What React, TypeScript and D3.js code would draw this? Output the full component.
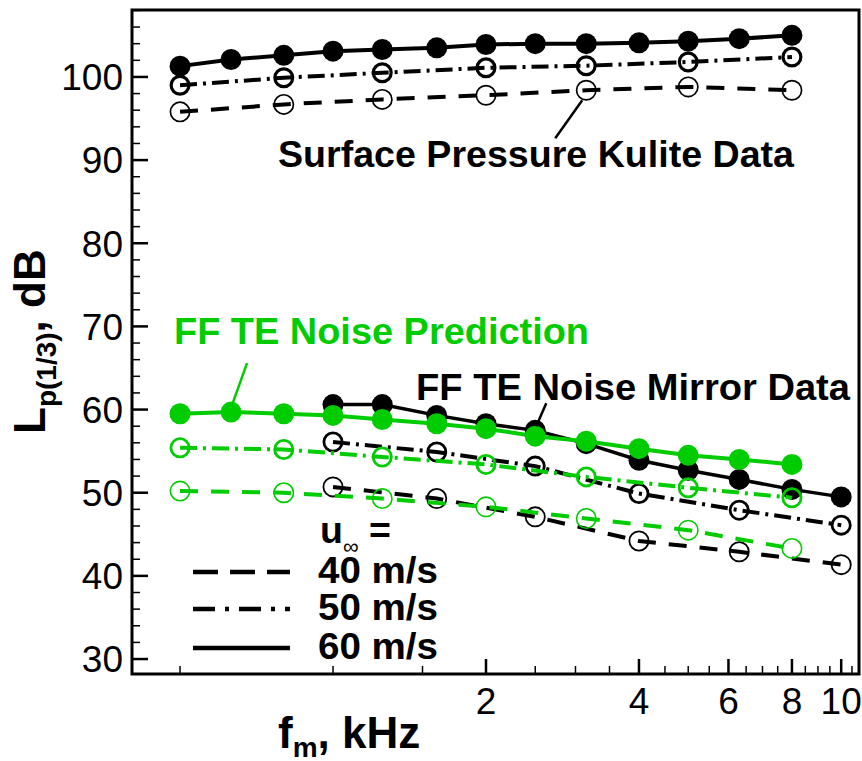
import React from "react";
import * as d3 from "d3";

// ---------- data ----------
const bands13 = [0.5, 0.63, 0.8, 1, 1.25, 1.6, 2, 2.5, 3.15, 4, 5, 6.3, 8];
const bandsOdd = [0.5, 0.8, 1.25, 2, 3.15, 5, 8];
const mirrorBands = [1, 1.25, 1.6, 2, 2.5, 3.15, 4, 5, 6.3, 8, 10];
const mirrorBandsAlt = [1, 1.6, 2.5, 4, 6.3, 10];

const kulite60 = [101.3, 102.1, 102.6, 103.1, 103.3, 103.5, 103.9, 104.0, 104.0, 104.1, 104.3, 104.6, 105.0];
const kulite50 = [99.0, 99.9, 100.5, 101.1, 101.35, 101.8, 102.4];
const kulite40 = [95.8, 96.7, 97.3, 97.8, 98.4, 98.8, 98.4];

const mirror60 = [60.6, 60.6, 59.3, 58.3, 57.5, 55.9, 53.9, 52.7, 51.6, 50.4, 49.5];
const mirror50 = [56.1, 54.9, 53.2, 49.9, 47.9, 46.1];
const mirror40 = [50.7, 49.3, 47.1, 44.2, 42.9, 41.35];

const pred60 = [59.5, 59.7, 59.5, 59.3, 58.8, 58.3, 57.7, 56.8, 56.2, 55.3, 54.5, 54.0, 53.4];
const pred50 = [55.4, 55.2, 54.3, 53.4, 51.9, 50.6, 49.4];
const pred40 = [50.2, 50.0, 49.3, 48.3, 46.9, 45.5, 43.3];

const yMajorTicks = [30, 40, 50, 60, 70, 80, 90, 100];
const xMajorTicks = [2, 4, 6, 8, 10];
const xMinorStep = 0.5;
const legendLabels = ["40 m/s", "50 m/s", "60 m/s"];

// ---------- styles ----------
const GREEN = "#00cc00";
const FONT = "'Liberation Sans', Arial, Helvetica, sans-serif";
const DASH = "18,13";
const DASHDOT = "17,6,3,6";

const W = 862;
const H = 761;
const L = 132, R = 859, T = 10, B = 674;

const x = d3.scaleLog().domain([0.4022, 10.84]).range([L, R]);
const y = d3.scaleLinear().domain([28.2, 108.05]).range([B, T]);

type Pt = { f: number; v: number };
const zip = (fs: number[], vs: number[]): Pt[] => fs.map((f, i) => ({ f, v: vs[i] }));
const lineGen = d3.line<Pt>().x((d) => x(d.f)).y((d) => y(d.v));

function Series({ pts, color, dash, lw, filled, cw, r = 10.5 }: { pts: Pt[]; color: string; dash?: string; lw: number; filled: boolean; cw: number; r?: number }) {
  return (
    <g>
      <path d={lineGen(pts) || ""} fill="none" stroke={color} strokeWidth={lw} strokeDasharray={dash} />
      {pts.map((p, i) => (
        <circle key={i} cx={x(p.f)} cy={y(p.v)} r={filled ? r : r - cw / 2} fill={filled ? color : "none"} stroke={filled ? "none" : color} strokeWidth={cw} />
      ))}
    </g>
  );
}

export default function App() {
  const yMinor = d3.range(30, 108.01, 2).filter((v) => v % 10 !== 0);
  const xMinor = d3.range(0.5, 10.51, xMinorStep).filter((f) => !xMajorTicks.includes(f));

  const k40 = zip(bandsOdd, kulite40);
  const kLead = k40[4];
  const p60 = zip(bands13, pred60);
  const pLead = p60[1];
  const m60 = zip(mirrorBands, mirror60);
  const mLead = m60[4];

  const legendY = [572, 609, 648];
  const legendDash = ["25,12", "22,10,4,10", undefined];

  return (
    <svg width={W} height={H} style={{ position: "absolute", left: 0, top: 0, background: "#fff" }} fontFamily={FONT}>
      <rect x={0} y={0} width={W} height={H} fill="#fff" />
      {/* ticks */}
      {yMajorTicks.map((v) => (
        <g key={"ym" + v}>
          <line x1={L} x2={L + 16} y1={y(v)} y2={y(v)} stroke="#000" strokeWidth={2.5} />
          <text x={123} y={y(v)} dy="0.36em" textAnchor="end" fontSize={37}>{v}</text>
        </g>
      ))}
      {yMinor.map((v) => (
        <line key={"yn" + v} x1={L} x2={L + 8} y1={y(v)} y2={y(v)} stroke="#000" strokeWidth={1.5} />
      ))}
      {xMajorTicks.map((f) => (
        <g key={"xm" + f}>
          <line x1={x(f)} x2={x(f)} y1={B} y2={B - 15} stroke="#000" strokeWidth={2.5} />
          <text x={x(f)} y={714} textAnchor="middle" fontSize={37}>{f}</text>
        </g>
      ))}
      {xMinor.map((f) => (
        <line key={"xn" + f} x1={x(f)} x2={x(f)} y1={B} y2={B - 8} stroke="#000" strokeWidth={1.5} />
      ))}

      {/* Kulite data */}
      <Series pts={zip(bands13, kulite60)} color="#000" lw={4} filled cw={0} />
      <Series pts={zip(bandsOdd, kulite50)} color="#000" lw={4} dash={DASHDOT} filled={false} cw={3.2} />
      <Series pts={k40} color="#000" lw={4} dash={DASH} filled={false} cw={1.7} />

      {/* Mirror data */}
      <Series pts={m60} color="#000" lw={3.5} filled cw={0} />
      <Series pts={zip(mirrorBandsAlt, mirror50)} color="#000" lw={4} dash={DASHDOT} filled={false} cw={2.8} />
      <Series pts={zip(mirrorBandsAlt, mirror40)} color="#000" lw={4} dash={DASH} filled={false} cw={1.8} />

      {/* Prediction */}
      <Series pts={p60} color={GREEN} lw={4} filled cw={0} />
      <Series pts={zip(bandsOdd, pred50)} color={GREEN} lw={4} dash={DASHDOT} filled={false} cw={2.8} />
      <Series pts={zip(bandsOdd, pred40)} color={GREEN} lw={4} dash={DASH} filled={false} cw={1.6} />

      {/* annotations */}
      <line x1={x(kLead.f) - 4} y1={y(kLead.v) + 10} x2={x(kLead.f) - 31} y2={y(kLead.v) + 48} stroke="#000" strokeWidth={2.5} />
      <text x={278} y={167} fontSize={37.5} fontWeight="bold" textLength={516} lengthAdjust="spacingAndGlyphs">Surface Pressure Kulite Data</text>

      <line x1={x(pLead.f) + 16} y1={y(pLead.v) - 49} x2={x(pLead.f) + 2} y2={y(pLead.v) - 10} stroke={GREEN} strokeWidth={2.5} />
      <text x={174} y={344} fontSize={37.5} fontWeight="bold" fill={GREEN} textLength={415} lengthAdjust="spacingAndGlyphs">FF TE Noise Prediction</text>

      <line x1={x(mLead.f) + 11} y1={y(mLead.v) - 27} x2={x(mLead.f) + 1} y2={y(mLead.v) - 4} stroke="#000" strokeWidth={2.5} />
      <text x={416} y={400} fontSize={37.5} fontWeight="bold" textLength={434} lengthAdjust="spacingAndGlyphs">FF TE Noise Mirror Data</text>

      {/* legend */}
      <text x={320} y={543} fontSize={37.5} fontWeight="bold">
        u<tspan fontSize={22} dy={11} fontWeight="normal">∞</tspan><tspan dy={-11}> =</tspan>
      </text>
      {legendLabels.map((lab, i) => (
        <g key={lab}>
          <line x1={193} x2={290} y1={legendY[i]} y2={legendY[i]} stroke="#000" strokeWidth={4.5} strokeDasharray={legendDash[i]} />
          <text x={318} y={legendY[i] + 11} fontSize={37.5} fontWeight="bold" textLength={120} lengthAdjust="spacingAndGlyphs">{lab}</text>
        </g>
      ))}

      {/* axis titles */}
      <text x={278} y={748} fontSize={44} fontWeight="bold">
        f<tspan fontSize={28} dy={9}>m</tspan><tspan dy={-9}>, kHz</tspan>
      </text>
      <text transform="translate(45,434) rotate(-90)" fontSize={44} fontWeight="bold">
        L<tspan fontSize={28} dy={11}>p(1/3)</tspan><tspan dy={-11}>, dB</tspan>
      </text>

      {/* frame */}
      <rect x={L} y={T} width={R - L} height={B - T} fill="none" stroke="#000" strokeWidth={3} />
    </svg>
  );
}
